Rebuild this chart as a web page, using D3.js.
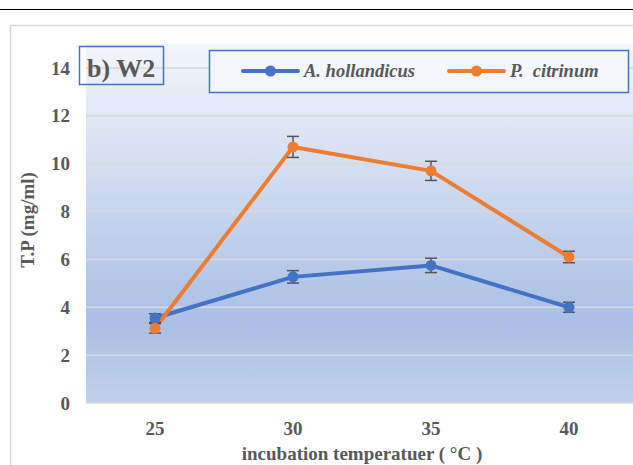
<!DOCTYPE html>
<html>
<head>
<meta charset="utf-8">
<script src="https://d3js.org/d3.v7.min.js"></script>
<style>
  body { margin: 0; background: #fff; }
  svg { display: block; }
</style>
</head>
<body>
<div id="chart"></div>
<script>
// chart data
var temps = ["25", "30", "35", "40"];
var hollandicus = [3.55, 5.27, 5.75, 4.0];
var hollandicusErr = [0.18, 0.26, 0.3, 0.21];
var citrinum = [3.12, 10.7, 9.7, 6.1];
var citrinumErr = [0.2, 0.44, 0.4, 0.24];
var yTicks = [0, 2, 4, 6, 8, 10, 12, 14];

var series = [
  { name: "A. hollandicus", values: hollandicus, err: hollandicusErr, color: "#4472c4" },
  { name: "P.  citrinum", values: citrinum, err: citrinumErr, color: "#ed7d31" }
];

var W = 633, H = 465;
var m = { top: 44, bottom: 403, left: 86, right: 638 };
var textColor = "#595959";
var serif = "Liberation Serif";

var svg = d3.select("#chart").append("svg")
  .attr("width", W)
  .attr("height", H);

// top rule and outer chart frame
svg.append("line")
  .attr("x1", 0).attr("x2", W).attr("y1", 9.5).attr("y2", 9.5)
  .attr("stroke", "#000").attr("stroke-width", 1);
svg.append("rect")
  .attr("x", 10.5).attr("y", 25.5).attr("width", 640).attr("height", 460)
  .attr("fill", "#fff").attr("stroke", "#d9d9d9").attr("stroke-width", 1.5);

var x = d3.scaleBand().domain(temps).range([m.left, m.right]);
var y = d3.scaleLinear().domain([0, 15]).range([m.bottom, m.top]);

// plot background gradient
var grad = svg.append("defs").append("linearGradient")
  .attr("id", "bg").attr("x1", 0).attr("x2", 0).attr("y1", 0).attr("y2", 1);
grad.append("stop").attr("offset", "0%").attr("stop-color", "#f3f6fb");
grad.append("stop").attr("offset", "78%").attr("stop-color", "#a9bfe4");
grad.append("stop").attr("offset", "100%").attr("stop-color", "#c1d1eb");

svg.append("rect")
  .attr("x", m.left).attr("y", m.top)
  .attr("width", m.right - m.left).attr("height", m.bottom - m.top)
  .attr("fill", "url(#bg)");

// gridlines
svg.append("g")
  .selectAll("line")
  .data(yTicks)
  .enter().append("line")
  .attr("x1", m.left).attr("x2", m.right)
  .attr("y1", function(d) { return y(d); })
  .attr("y2", function(d) { return y(d); })
  .attr("stroke", "#d9d9d9").attr("stroke-width", 1.5);

// y axis
var yAxis = svg.append("g")
  .attr("transform", "translate(" + (m.left - 16) + ",0)")
  .call(d3.axisLeft(y).tickValues(yTicks).tickSize(0).tickPadding(0))
  .attr("font-family", serif);
yAxis.select(".domain").remove();
yAxis.selectAll("text")
  .attr("fill", textColor)
  .attr("font-size", 19)
  .attr("font-weight", "bold");

// x axis
var xAxis = svg.append("g")
  .attr("transform", "translate(0," + (m.bottom + 18) + ")")
  .call(d3.axisBottom(x).tickSize(0).tickPadding(0))
  .attr("font-family", serif);
xAxis.select(".domain").remove();
xAxis.selectAll("text")
  .attr("fill", textColor)
  .attr("font-size", 19)
  .attr("font-weight", "bold");

// axis titles
svg.append("text")
  .attr("transform", "translate(34,220) rotate(-90)")
  .attr("text-anchor", "middle")
  .attr("font-family", serif)
  .attr("fill", textColor)
  .attr("font-size", 19)
  .attr("font-weight", "bold")
  .text("T.P (mg/ml)");

svg.append("text")
  .attr("x", 362).attr("y", 460)
  .attr("text-anchor", "middle")
  .attr("font-family", serif)
  .attr("fill", textColor)
  .attr("font-size", 19)
  .attr("font-weight", "bold")
  .text("incubation temperatuer ( \u00B0C )");

var cx = function(i) { return x(temps[i]) + x.bandwidth() / 2; };

// lines
var line = d3.line()
  .x(function(d, i) { return cx(i); })
  .y(function(d) { return y(d); });

series.forEach(function(s) {
  svg.append("path")
    .datum(s.values)
    .attr("d", line)
    .attr("fill", "none")
    .attr("stroke", s.color)
    .attr("stroke-width", 4)
    .attr("stroke-linejoin", "round")
    .attr("stroke-linecap", "round");
});

// error bars
series.forEach(function(s) {
  var g = svg.append("g").selectAll("g")
    .data(s.values)
    .enter().append("g")
    .attr("stroke", "#555").attr("stroke-width", 1.5);
  g.append("line")
    .attr("x1", function(d, i) { return cx(i); })
    .attr("x2", function(d, i) { return cx(i); })
    .attr("y1", function(d, i) { return y(d + s.err[i]); })
    .attr("y2", function(d, i) { return y(d - s.err[i]); });
  [1, -1].forEach(function(sign) {
    g.append("line")
      .attr("x1", function(d, i) { return cx(i) - 6; })
      .attr("x2", function(d, i) { return cx(i) + 6; })
      .attr("y1", function(d, i) { return y(d + sign * s.err[i]); })
      .attr("y2", function(d, i) { return y(d + sign * s.err[i]); });
  });
});

// markers
series.forEach(function(s) {
  svg.append("g").selectAll("circle")
    .data(s.values)
    .enter().append("circle")
    .attr("cx", function(d, i) { return cx(i); })
    .attr("cy", function(d) { return y(d); })
    .attr("r", 5.5)
    .attr("fill", s.color);
});

// panel label
svg.append("rect")
  .attr("x", 79.5).attr("y", 46.5).attr("width", 84).attr("height", 38)
  .attr("fill", "none").attr("stroke", "#4472c4").attr("stroke-width", 1.5);
svg.append("text")
  .attr("x", 87).attr("y", 77)
  .attr("font-family", serif)
  .attr("fill", textColor)
  .attr("font-size", 26)
  .attr("font-weight", "bold")
  .text("b) W2");

// legend
svg.append("rect")
  .attr("x", 209.5).attr("y", 50.5).attr("width", 419).attr("height", 42)
  .attr("fill", "#f3f6fb").attr("stroke", "#4472c4").attr("stroke-width", 1.5);

var legendX = [243, 449];
series.forEach(function(s, i) {
  var lg = svg.append("g").attr("transform", "translate(" + legendX[i] + ",71)");
  lg.append("line")
    .attr("x1", 0).attr("x2", 55)
    .attr("stroke", s.color).attr("stroke-width", 4)
    .attr("stroke-linecap", "round");
  lg.append("circle").attr("cx", 27.5).attr("r", 5.5).attr("fill", s.color);
  lg.append("text")
    .attr("x", 61).attr("y", 6)
    .attr("font-family", serif)
    .attr("fill", textColor)
    .attr("font-size", 18.5)
    .attr("font-weight", "bold")
    .attr("font-style", "italic")
    .style("white-space", "pre")
    .text(s.name);
});
</script>
</body>
</html>
